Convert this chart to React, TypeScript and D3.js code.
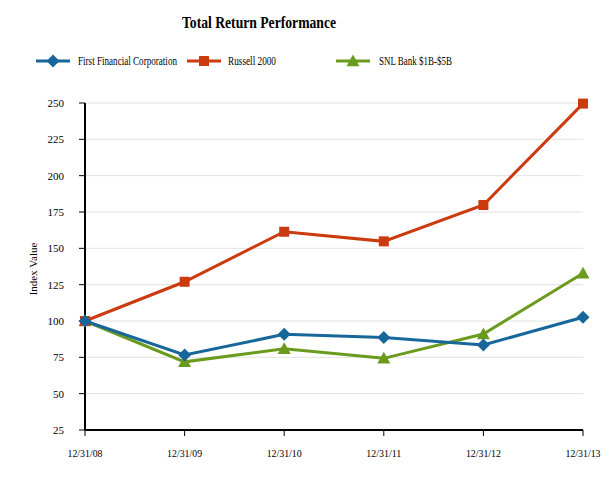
import React from "react";
import * as d3 from "d3";

const categories = ["12/31/08", "12/31/09", "12/31/10", "12/31/11", "12/31/12", "12/31/13"];
const firstFinancial = [100, 76.6, 90.8, 88.6, 83.5, 102.6];
const russell2000 = [100, 127.0, 161.4, 154.8, 179.8, 249.6];
const snlBank = [100, 71.9, 80.9, 74.3, 91.0, 132.8];
const yTicks = [25, 50, 75, 100, 125, 150, 175, 200, 225, 250];

const series = [
  { name: "First Financial Corporation", values: firstFinancial, color: "#17679b", marker: "diamond" },
  { name: "Russell 2000", values: russell2000, color: "#cc3a10", marker: "square" },
  { name: "SNL Bank $1B-$5B", values: snlBank, color: "#6b9b1c", marker: "triangle" },
];

const W = 613, H = 480;
const left = 85, right = 583, top = 103, bottom = 430;
const font = "'Liberation Serif', 'Times New Roman', serif";

function Marker({ type, x, y, color }: { type: string; x: number; y: number; color: string }) {
  if (type === "diamond") {
    const s = 6.5;
    return <path d={`M${x},${y - s}L${x + s},${y}L${x},${y + s}L${x - s},${y}Z`} fill={color} />;
  }
  if (type === "square") {
    const s = 5;
    return <rect x={x - s} y={y - s} width={2 * s} height={2 * s} fill={color} />;
  }
  const s = 6.5;
  return <path d={`M${x},${y - s}L${x + s},${y + s * 0.8}L${x - s},${y + s * 0.8}Z`} fill={color} />;
}

export default function App() {
  const x = d3.scalePoint<string>().domain(categories).range([left, right]);
  const y = d3.scaleLinear().domain([25, 250]).range([bottom, top]);
  const line = d3.line<number>().x((_, i) => x(categories[i])!).y((d) => y(d));

  const legend = [
    { lx: 36, tx: 78, tl: 99 },
    { lx: 187, tx: 228, tl: 48 },
    { lx: 336, tx: 379, tl: 73 },
  ];

  return (
    <svg width={W} height={H} style={{ position: "absolute", left: 0, top: 0, background: "#fff" }} fontFamily={font}>
      <rect width={W} height={H} fill="#fff" />
      <text x={182} y={28} fontSize={17} fontWeight="bold" textLength={154} lengthAdjust="spacingAndGlyphs">Total Return Performance</text>
      {series.map((s, i) => (
        <g key={s.name}>
          <line x1={legend[i].lx} x2={legend[i].lx + 34} y1={61} y2={61} stroke={s.color} strokeWidth={3} />
          <Marker type={s.marker} x={legend[i].lx + 17} y={61} color={s.color} />
          <text x={legend[i].tx} y={65} fontSize={11.5} textLength={legend[i].tl} lengthAdjust="spacingAndGlyphs">{s.name}</text>
        </g>
      ))}
      {yTicks.map((t) => (
        <g key={t}>
          {t !== 25 && <line x1={left} x2={right} y1={y(t)} y2={y(t)} stroke="#e2e2e2" strokeWidth={1} />}
          <line x1={left - 6} x2={left} y1={y(t)} y2={y(t)} stroke="#000" strokeWidth={1} />
          <text x={64} y={y(t) + 4} textAnchor="end" fontSize={11}>{t}</text>
        </g>
      ))}
      {categories.map((c) => (
        <g key={c}>
          <line x1={x(c)!} x2={x(c)!} y1={bottom} y2={bottom + 6} stroke="#000" strokeWidth={1} />
          <text x={x(c)!} y={457} textAnchor="middle" fontSize={11} textLength={35} lengthAdjust="spacingAndGlyphs">{c}</text>
        </g>
      ))}
      <line x1={left} x2={left} y1={top} y2={bottom} stroke="#000" strokeWidth={2} />
      <line x1={left} x2={right} y1={bottom} y2={bottom} stroke="#000" strokeWidth={2} />
      <text transform={`translate(37,269) rotate(-90)`} textAnchor="middle" fontSize={11}>Index Value</text>
      {[2, 1, 0].map((i) => {
        const s = series[i];
        return (
          <g key={s.name}>
            <path d={line(s.values)!} fill="none" stroke={s.color} strokeWidth={3} />
            {s.values.map((v, j) => (
              <Marker key={j} type={s.marker} x={x(categories[j])!} y={y(v)} color={s.color} />
            ))}
          </g>
        );
      })}
    </svg>
  );
}
